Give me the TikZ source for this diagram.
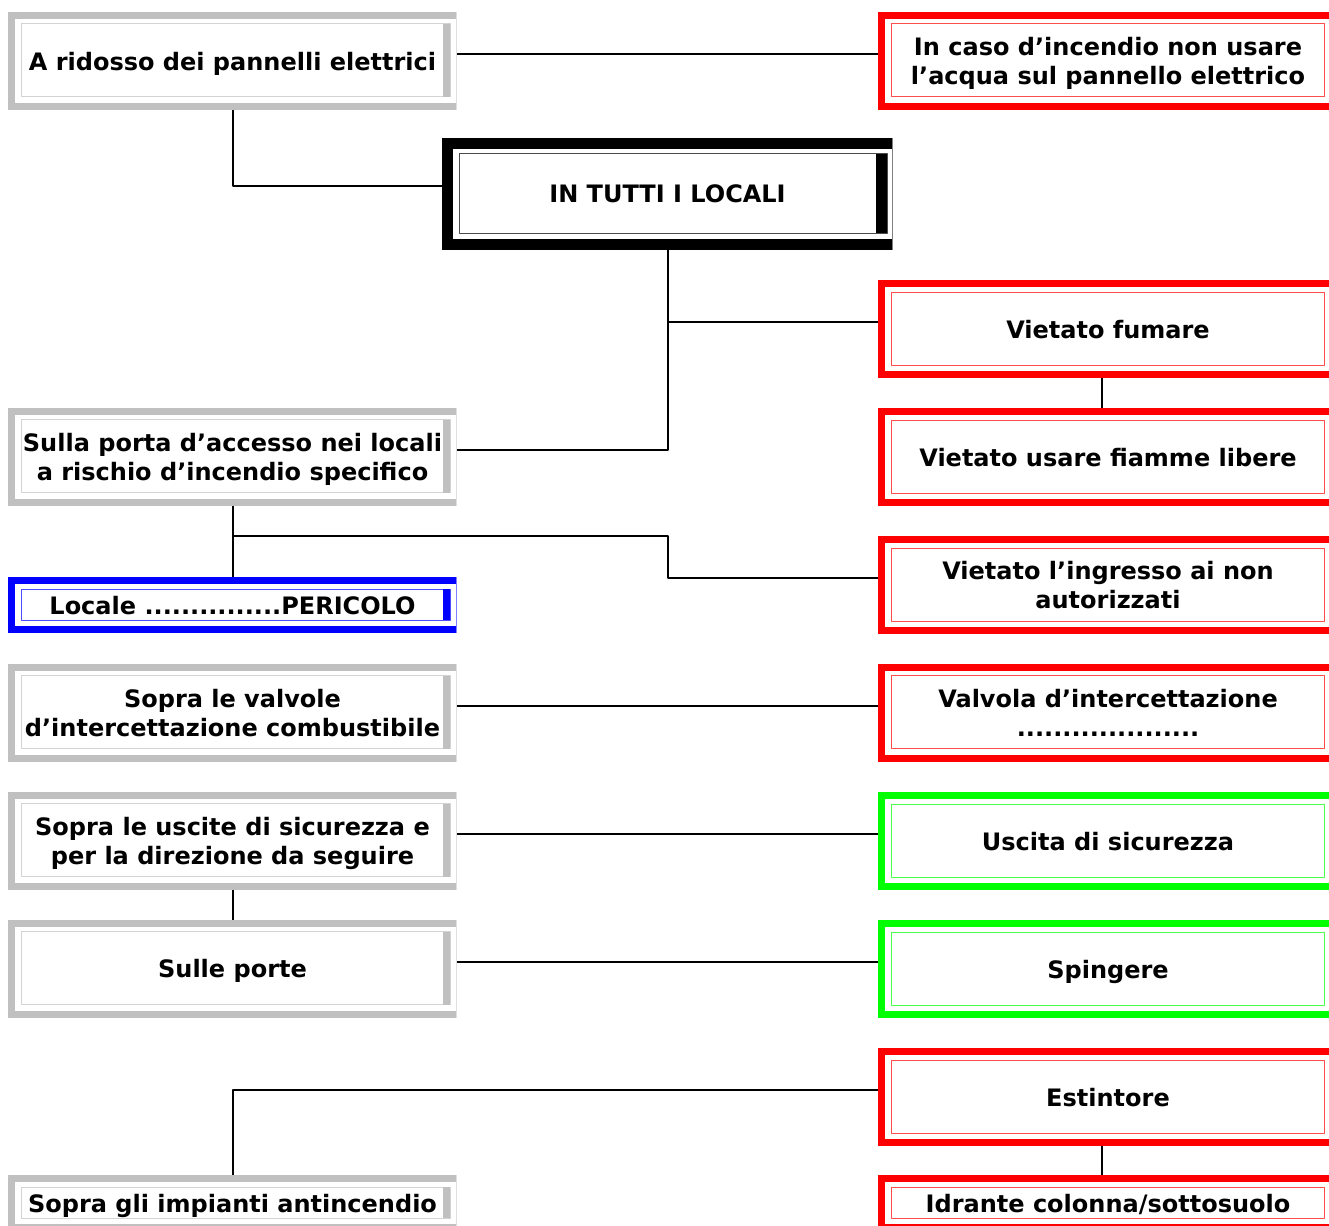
\documentclass[tikz,border=0pt]{standalone}
\usepackage{fontspec}
\setmainfont{DejaVu Sans}
\usetikzlibrary{positioning}
\definecolor{framegray}{HTML}{C0C0C0}

\begin{document}
\begin{tikzpicture}[x=1pt,y=-1pt,line join=bevel,
  rim/.store in=\rimw,rim=7pt,
  barw/.store in=\barw,barw=7pt,
  gapr/.store in=\gapr,gapr=7pt,
  panel/.style={rectangle,inner sep=0pt,outer sep=0pt,align=center,
    font=\bfseries\fontsize{24}{29}\selectfont,text depth=0pt,minimum height=98pt,
    path picture={
      \coordinate (pnw) at (path picture bounding box.north west);
      \coordinate (pne) at (path picture bounding box.north east);
      \coordinate (psw) at (path picture bounding box.south west);
      \coordinate (pse) at (path picture bounding box.south east);
      \fill[#1] (pnw) rectangle ([xshift=\rimw]psw);
      \fill[#1] (pnw) rectangle ([yshift=-\rimw]pne);
      \fill[#1] (psw) rectangle ([yshift=\rimw]pse);
      \draw[#1!50,line width=1pt] ([xshift=-.5pt]pne) -- ([xshift=-.5pt]pse);
      \draw[#1!70,line width=1pt] ([shift={({\rimw+6pt},{-\rimw-5pt})}]pnw) rectangle ([shift={({-\gapr},{\rimw+6pt})}]pse);
      \ifdim\barw>0pt
        \fill[#1] ([shift={({-\gapr-\barw},{-\rimw-5pt})}]pne) rectangle ([shift={({-\gapr},{\rimw+6pt})}]pse);
      \fi
    }},
  lpanel/.style={panel=#1,minimum width=449pt},
  rpanel/.style={panel=#1,minimum width=460pt,gapr=14pt,barw=0pt},
  link/.style={draw=black,line width=2pt},
]
%%
\useasboundingbox (0,0) rectangle (1329,1225);
\clip (0,0) rectangle (1329,1225);
%% left column
\node (ridosso) at (232.5,61) [lpanel=framegray] {A ridosso dei pannelli elettrici};
\node (tutti) at (667.5,194) [panel=black,rim=11pt,barw=11pt,gapr=6pt,minimum width=451pt,minimum height=112pt] {IN TUTTI I LOCALI};
\node (sullaporta) at (232.5,456.5) [lpanel=framegray] {Sulla porta d’accesso nei locali\\a rischio d’incendio specifico};
\node (locale) at (232.5,605) [lpanel=blue,minimum height=56pt] {Locale ...............PERICOLO};
\node (valvole) at (232.5,712.5) [lpanel=framegray] {Sopra le valvole\\d’intercettazione combustibile};
\node (uscite) at (232.5,840.5) [lpanel=framegray] {Sopra le uscite di sicurezza e\\per la direzione da seguire};
\node (porte) at (232.5,968.5) [lpanel=framegray] {Sulle porte};
\node (impianti) at (232.5,1203) [lpanel=framegray,minimum height=56pt] {Sopra gli impianti antincendio};
%% right column
\node (acqua) at (1108,61) [rpanel=red] {In caso d’incendio non usare\\l’acqua sul pannello elettrico};
\node (fumare) at (1108,329) [rpanel=red] {Vietato fumare};
\node (fiamme) at (1108,457) [rpanel=red] {Vietato usare fiamme libere};
\node (ingresso) at (1108,585) [rpanel=red] {Vietato l’ingresso ai non\\autorizzati};
\node (valvola) at (1108,712.5) [rpanel=red] {Valvola d’intercettazione\\....................};
\node (uscita) at (1108,841) [rpanel=green] {Uscita di sicurezza};
\node (spingere) at (1108,969) [rpanel=green] {Spingere};
\node (estintore) at (1108,1097) [rpanel=red] {Estintore};
\node (idrante) at (1108,1203) [rpanel=red,minimum height=56pt] {Idrante colonna/sottosuolo};
%% connectors
\draw [link] ([yshift=7pt]ridosso.east) -- ([yshift=7pt]ridosso.east -| acqua.west);
\draw [link] (ridosso.south) |- ([yshift=8pt]tutti.west);
\draw [link] (tutti.south) |- ([yshift=7pt]sullaporta.east);
\draw [link] ([yshift=7pt]fumare.west) -| (tutti.south);
\draw [link] ([xshift=-6pt]fumare.south) -- ([xshift=-6pt]fiamme.north);
\draw [link] (sullaporta.south) -- (locale.north);
\draw [link] ([yshift=-30pt]sullaporta.south) -| ([yshift=7pt]ingresso.west -| tutti.south) -- ([yshift=7pt]ingresso.west);
\draw [link] ([yshift=7pt]valvole.east) -- ([yshift=7pt]valvole.east -| valvola.west);
\draw [link] ([yshift=7pt]uscite.east) -- ([yshift=7pt]uscite.east -| uscita.west);
\draw [link] (uscite.south) -- (porte.north);
\draw [link] ([yshift=7pt]porte.east) -- ([yshift=7pt]porte.east -| spingere.west);
\draw [link] ([yshift=7pt]estintore.west) -| (impianti.north);
\draw [link] ([xshift=-6pt]estintore.south) -- ([xshift=-6pt]idrante.north);
%
\end{tikzpicture}
\end{document}
